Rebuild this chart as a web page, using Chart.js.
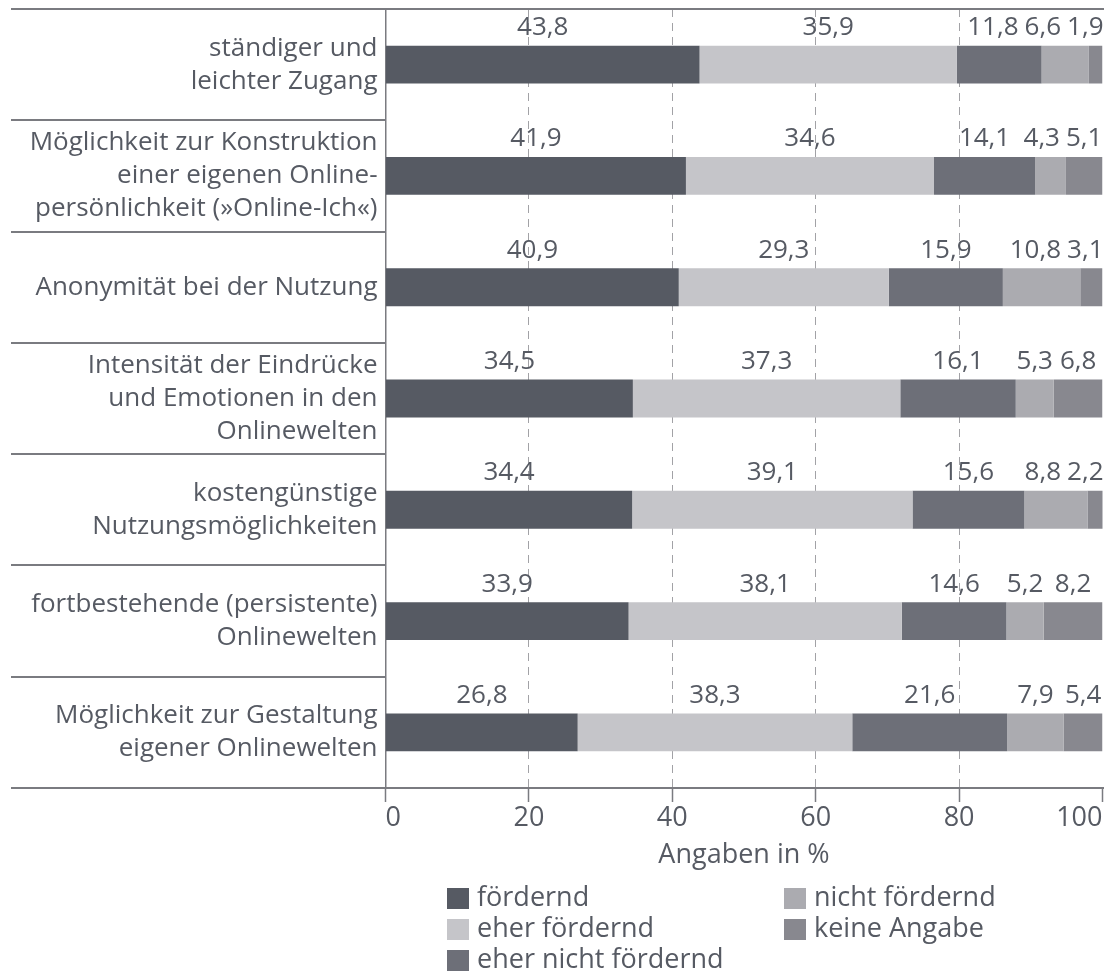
<!DOCTYPE html>
<html lang="de">
<head>
<meta charset="utf-8">
<title>Angaben in %</title>
<script src="https://cdn.jsdelivr.net/npm/chart.js@4/dist/chart.umd.min.js"></script>
<style>
  html, body { margin: 0; padding: 0; background: #fff; }
  #wrap { width: 1104px; height: 974px; position: relative; }
</style>
</head>
<body>
<div id="wrap"><canvas id="chart"></canvas></div>
<script>
// --- Data ---
const categories = [
  ["ständiger und", "leichter Zugang"],
  ["Möglichkeit zur Konstruktion", "einer eigenen Online-", "persönlichkeit (»Online-Ich«)"],
  "Anonymität bei der Nutzung",
  ["Intensität der Eindrücke", "und Emotionen in den", "Onlinewelten"],
  ["kostengünstige", "Nutzungsmöglichkeiten"],
  ["fortbestehende (persistente)", "Onlinewelten"],
  ["Möglichkeit zur Gestaltung", "eigener Onlinewelten"]
];
const foerdernd = [43.8, 41.9, 40.9, 34.5, 34.4, 33.9, 26.8];
const eherFoerdernd = [35.9, 34.6, 29.3, 37.3, 39.1, 38.1, 38.3];
const eherNichtFoerdernd = [11.8, 14.1, 15.9, 16.1, 15.6, 14.6, 21.6];
const nichtFoerdernd = [6.6, 4.3, 10.8, 5.3, 8.8, 5.2, 7.9];
const keineAngabe = [1.9, 5.1, 3.1, 6.8, 2.2, 8.2, 5.4];
const xTicks = [0, 20, 40, 60, 80, 100];
const axisTitle = "Angaben in %";

// --- Styles ---
const FONT = "'Open Sans', 'Noto Sans', sans-serif";
const TEXT = "#565a63";
const LINE = "#7a7b80";
const colors = {
  foerdernd: "#565a63",
  eherFoerdernd: "#c5c5c9",
  eherNichtFoerdernd: "#6d6f78",
  nichtFoerdernd: "#ababb0",
  keineAngabe: "#88888f"
};

const fmt = (v) => v.toFixed(1).replace(".", ",");

// --- Plugins ---
// frame lines: top rule, category separators and the long base line
const framePlugin = {
  id: "frame",
  beforeDatasetsDraw(chart) {
    const { ctx, chartArea, scales } = chart;
    const yScale = scales.y;
    const n = chart.data.labels.length;
    const band = (chartArea.bottom - chartArea.top) / n;
    ctx.save();
    ctx.strokeStyle = LINE;
    ctx.lineWidth = 2;
    ctx.beginPath();
    ctx.moveTo(11, chartArea.top);
    ctx.lineTo(chart.width, chartArea.top);
    for (let i = 1; i < n; i++) {
      const y = Math.round(yScale.getPixelForValue(i) - band / 2);
      ctx.moveTo(11, y);
      ctx.lineTo(chartArea.left, y);
    }
    ctx.stroke();
    ctx.restore();
  },
  afterDraw(chart) {
    const { ctx, chartArea } = chart;
    ctx.save();
    ctx.strokeStyle = LINE;
    ctx.lineWidth = 2;
    ctx.beginPath();
    ctx.moveTo(11, chartArea.bottom);
    ctx.lineTo(chart.width, chartArea.bottom);
    ctx.stroke();
    ctx.restore();
  }
};

// value labels above each bar, pushed left when they would collide
const valueLabels = {
  id: "valueLabels",
  afterDatasetsDraw(chart) {
    const { ctx, chartArea } = chart;
    const sets = chart.data.datasets;
    ctx.save();
    ctx.font = `26px ${FONT}`;
    ctx.fillStyle = TEXT;
    ctx.textAlign = "center";
    ctx.textBaseline = "middle";
    chart.data.labels.forEach((_, i) => {
      const items = sets.map((ds, j) => {
        const bar = chart.getDatasetMeta(j).data[i];
        const text = fmt(ds.data[i]);
        return {
          text,
          w: ctx.measureText(text).width,
          cx: (bar.x + bar.base) / 2,
          y: bar.y - bar.height / 2 - 18
        };
      });
      let limit = chartArea.right + 1;
      for (let j = items.length - 1; j >= 0; j--) {
        const it = items[j];
        const right = Math.min(it.cx + it.w / 2, limit);
        it.cx = right - it.w / 2;
        limit = right - it.w - 6;
      }
      items.forEach((it) => ctx.fillText(it.text, it.cx, it.y));
    });
    ctx.restore();
  }
};

// legend in two columns: first three series left, last two right
const legendGrid = {
  id: "legendGrid",
  afterDraw(chart) {
    const { ctx } = chart;
    const cols = [447, 784];
    const rows = [898, 929, 960];
    ctx.save();
    ctx.font = `27px ${FONT}`;
    ctx.textBaseline = "middle";
    ctx.textAlign = "left";
    chart.data.datasets.forEach((ds, k) => {
      const x = cols[k < 3 ? 0 : 1];
      const y = rows[k < 3 ? k : k - 3];
      ctx.fillStyle = ds.backgroundColor;
      ctx.fillRect(x, y - 10, 22, 21);
      ctx.fillStyle = TEXT;
      ctx.fillText(ds.label, x + 30, y);
    });
    ctx.restore();
  }
};

// --- Render Chart ---
const ctx = document.getElementById("chart").getContext("2d");
const makeSet = (label, data, color) => ({
  label,
  data,
  backgroundColor: color,
  borderWidth: 0,
  barPercentage: 0.34,
  categoryPercentage: 1
});

new Chart(ctx, {
  type: "bar",
  data: {
    labels: categories,
    datasets: [
      makeSet("fördernd", foerdernd, colors.foerdernd),
      makeSet("eher fördernd", eherFoerdernd, colors.eherFoerdernd),
      makeSet("eher nicht fördernd", eherNichtFoerdernd, colors.eherNichtFoerdernd),
      makeSet("nicht fördernd", nichtFoerdernd, colors.nichtFoerdernd),
      makeSet("keine Angabe", keineAngabe, colors.keineAngabe)
    ]
  },
  options: {
    indexAxis: "y",
    responsive: true,
    maintainAspectRatio: false,
    animation: false,
    layout: { padding: { top: 9, right: 1.5, left: 0, bottom: 0 } },
    plugins: {
      legend: { display: false },
      tooltip: { enabled: false }
    },
    scales: {
      x: {
        stacked: true,
        min: 0,
        max: 100,
        afterBuildTicks: (scale) => { scale.ticks = xTicks.map((v) => ({ value: v })); },
        afterFit: (scale) => {
          scale.height = 186;
          scale.paddingLeft = 0;
          scale.paddingRight = 0;
        },
        ticks: {
          color: TEXT,
          padding: 3,
          align: "inner",
          font: { family: FONT, size: 27, lineHeight: 1 }
        },
        grid: {
          color: (c) => (c.tick && (c.tick.value === 0 || c.tick.value === 100)) ? "rgba(0,0,0,0)" : "#a2a2a6",
          lineWidth: 1,
          tickColor: LINE,
          tickWidth: 1.5,
          tickLength: 14
        },
        border: { display: false, dash: [8, 6] },
        title: {
          display: true,
          text: axisTitle,
          color: TEXT,
          font: { family: FONT, size: 27, lineHeight: 1.2 },
          padding: { top: 0, bottom: 102 }
        }
      },
      y: {
        stacked: true,
        afterFit: (scale) => {
          scale.width = 385.5;
          scale.paddingTop = 0;
          scale.paddingBottom = 0;
        },
        ticks: {
          color: TEXT,
          padding: 8,
          font: { family: FONT, size: 26, lineHeight: 1.27 }
        },
        grid: { display: false, drawTicks: false },
        border: { display: true, color: LINE, width: 1.5 }
      }
    }
  },
  plugins: [framePlugin, valueLabels, legendGrid]
});
</script>
</body>
</html>
